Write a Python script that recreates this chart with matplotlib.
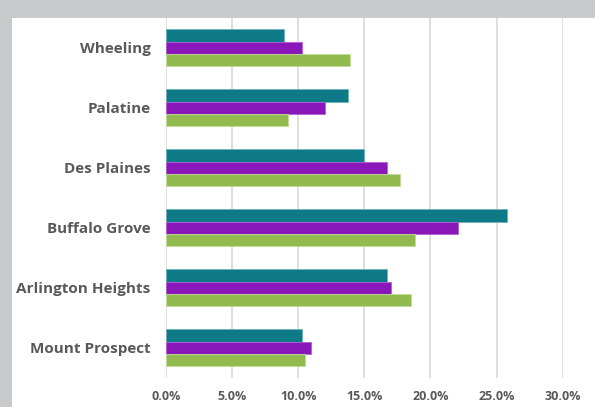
import matplotlib
matplotlib.use('Agg')
import matplotlib.pyplot as plt
import numpy as np
from matplotlib.patches import Rectangle
from matplotlib.ticker import FuncFormatter

# data (percent), categories listed top to bottom
cities = ['Wheeling', 'Palatine', 'Des Plaines', 'Buffalo Grove',
          'Arlington Heights', 'Mount Prospect']
series_teal = [8.9, 13.8, 15.0, 25.8, 16.7, 10.3]
series_purple = [10.3, 12.0, 16.7, 22.1, 17.0, 11.0]
series_green = [13.9, 9.2, 17.7, 18.8, 18.5, 10.5]
x_ticks = [0, 5, 10, 15, 20, 25, 30]

plt.rcParams['font.family'] = ['Open Sans', 'DejaVu Sans']

# setup figure
fig = plt.figure(figsize=(5.95, 4.07), dpi=100, facecolor='#c9cacb')
fig.patches.append(Rectangle((12 / 595, 0), 1 - 12 / 595, 1 - 18 / 407,
                             transform=fig.transFigure, facecolor='white',
                             edgecolor='none', zorder=-5))
ax = fig.add_axes([166 / 595, 29.3 / 407, 396.7 / 595, 360 / 407])
ax.set_facecolor('none')

# plot bars
y = np.arange(len(cities))
h = 0.204
colors = ['#0f7a87', '#8a17b8', '#92bb4f']
edges = ['#6fb3bb', '#b15fd6', '#c2dc98']
for i, (vals, c, e) in enumerate(zip([series_teal, series_purple, series_green],
                                     colors, edges)):
    ax.barh(y + (i - 1) * h, vals, height=h, color=c, edgecolor=e,
            linewidth=0.6, zorder=3)

# format axes
ax.set_ylim(len(cities) - 0.5, -0.5)
ax.set_xlim(0, 30)
ax.set_yticks(y)
ax.set_yticklabels(cities)
ax.set_xticks(x_ticks)
ax.xaxis.set_major_formatter(FuncFormatter(lambda v, p: '%.1f%%' % v))
ax.grid(axis='x', color='#d9d9d9', linewidth=1.2, zorder=0)
for s in ax.spines.values():
    s.set_visible(False)
ax.tick_params(axis='both', length=0, colors='#595959')
ax.tick_params(axis='y', pad=11, labelsize=11)
ax.tick_params(axis='x', pad=9, labelsize=9)
for lbl in ax.get_yticklabels() + ax.get_xticklabels():
    lbl.set_fontweight('bold')

fig.savefig('out.png', dpi=100, facecolor=fig.get_facecolor())
